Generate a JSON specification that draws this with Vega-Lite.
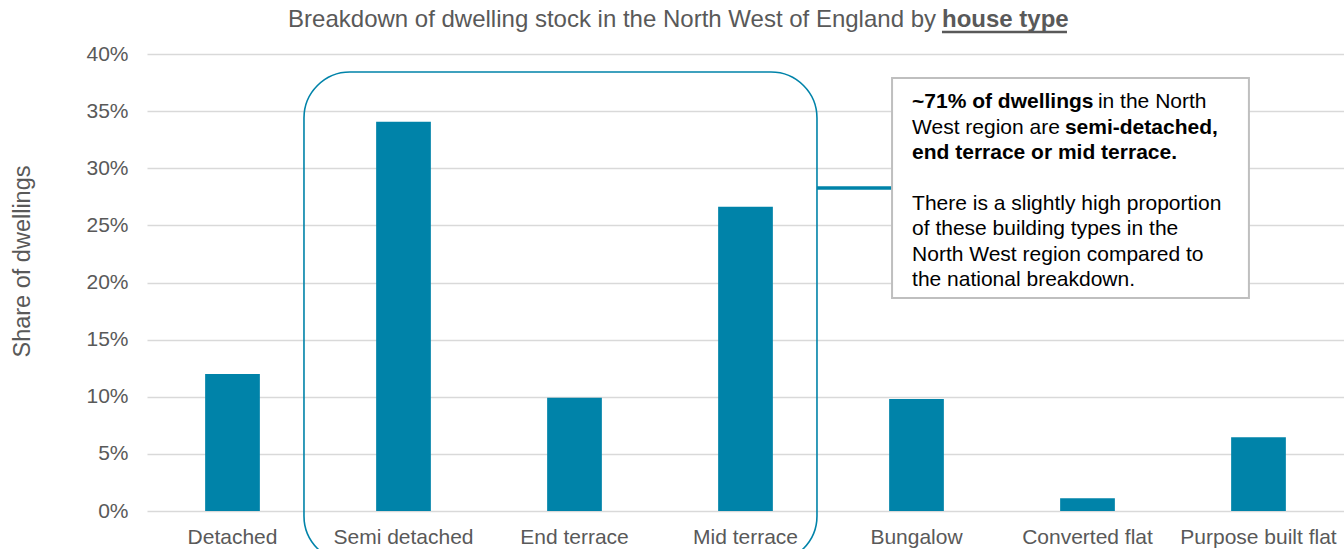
{
  "$schema": "https://vega.github.io/schema/vega-lite/v6.json",
  "width": 1197,
  "height": 457,
  "autosize": {"type": "none"},
  "padding": {"left": 147, "top": 54, "right": 0, "bottom": 38},
  "background": "white",
  "config": {
    "view": {"stroke": null},
    "font": "Liberation Sans",
    "axis": {"labelFont": "Liberation Sans", "titleFont": "Liberation Sans"}
  },
  "resolve": {"scale": {"x": "independent"}},
  "layer": [
    {
      "data": {
        "values": [
          {"type": "Detached", "share": 0.12},
          {"type": "Semi detached", "share": 0.3406},
          {"type": "End terrace", "share": 0.0992},
          {"type": "Mid terrace", "share": 0.2664},
          {"type": "Bungalow", "share": 0.098},
          {"type": "Converted flat", "share": 0.0111},
          {"type": "Purpose built flat", "share": 0.0646}
        ]
      },
      "mark": {"type": "bar", "color": "#0083a9"},
      "encoding": {
        "x": {
          "field": "type",
          "type": "nominal",
          "sort": null,
          "scale": {"paddingInner": 0.68, "paddingOuter": 0.34},
          "axis": {
            "title": null,
            "labelAngle": 0,
            "labelFontSize": 21,
            "labelColor": "#595959",
            "labelPadding": 15,
            "ticks": false,
            "domain": false,
            "grid": false
          }
        },
        "y": {
          "field": "share",
          "type": "quantitative",
          "scale": {"domain": [0, 0.4], "nice": false},
          "axis": {
            "title": "Share of dwellings",
            "titleFontSize": 23.5,
            "titleFontWeight": "normal",
            "titleColor": "#595959",
            "titleAngle": -90,
            "titleX": -125,
            "titleY": 207,
            "titleAlign": "center",
            "titleBaseline": "middle",
            "format": ".0%",
            "values": [0, 0.05, 0.1, 0.15, 0.2, 0.25, 0.3, 0.35, 0.4],
            "labelFontSize": 21,
            "labelColor": "#595959",
            "labelPadding": 19,
            "ticks": false,
            "domain": false,
            "grid": true,
            "gridColor": "#d9d9d9",
            "gridWidth": 1.5
          }
        }
      }
    },
    {
      "data": {"values": [{}]},
      "layer": [
        {
          "mark": {"type": "rect", "filled": false, "stroke": "#0083a9", "strokeWidth": 1.6, "cornerRadius": 46},
          "encoding": {
            "x": {"datum": 0.918, "type": "quantitative", "scale": {"domain": [0, 7], "nice": false, "zero": false}, "axis": null},
            "x2": {"datum": 3.918},
            "y": {"datum": 0.3842, "type": "quantitative"},
            "y2": {"datum": -0.0446}
          }
        },
        {
          "mark": {"type": "rule", "stroke": "#0083a9", "strokeWidth": 3.5},
          "encoding": {
            "x": {"datum": 3.918, "type": "quantitative", "axis": null},
            "x2": {"datum": 4.357},
            "y": {"datum": 0.2827, "type": "quantitative"}
          }
        },
        {
          "mark": {"type": "rect", "fill": "white", "stroke": "#bfbfbf", "strokeWidth": 2},
          "encoding": {
            "x": {"datum": 4.357, "type": "quantitative", "axis": null},
            "x2": {"datum": 6.444},
            "y": {"datum": 0.379, "type": "quantitative"},
            "y2": {"datum": 0.1864}
          }
        },
        {
          "mark": {"type": "text", "text": "~71% of dwellings", "fontWeight": "bold", "fontSize": 21, "color": "black", "align": "left", "baseline": "alphabetic"},
          "encoding": {
            "x": {"datum": 4.474, "type": "quantitative", "axis": null},
            "y": {"datum": 0.353, "type": "quantitative"}
          }
        },
        {
          "mark": {"type": "text", "text": "in the North", "fontSize": 21, "color": "black", "align": "left", "baseline": "alphabetic"},
          "encoding": {
            "x": {"datum": 5.561, "type": "quantitative", "axis": null},
            "y": {"datum": 0.353, "type": "quantitative"}
          }
        },
        {
          "mark": {"type": "text", "text": "West region are", "fontSize": 21, "color": "black", "align": "left", "baseline": "alphabetic"},
          "encoding": {
            "x": {"datum": 4.474, "type": "quantitative", "axis": null},
            "y": {"datum": 0.3297, "type": "quantitative"}
          }
        },
        {
          "mark": {"type": "text", "text": "semi-detached,", "fontWeight": "bold", "fontSize": 21, "color": "black", "align": "left", "baseline": "alphabetic"},
          "encoding": {
            "x": {"datum": 5.368, "type": "quantitative", "axis": null},
            "y": {"datum": 0.3297, "type": "quantitative"}
          }
        },
        {
          "mark": {"type": "text", "text": "end terrace or mid terrace.", "fontWeight": "bold", "fontSize": 21, "color": "black", "align": "left", "baseline": "alphabetic"},
          "encoding": {
            "x": {"datum": 4.474, "type": "quantitative", "axis": null},
            "y": {"datum": 0.3078, "type": "quantitative"}
          }
        },
        {
          "mark": {"type": "text", "text": ["There is a slightly high proportion", "of these building types in the", "North West region compared to", "the national breakdown."], "lineHeight": 25.4, "fontSize": 21, "color": "black", "align": "left", "baseline": "alphabetic"},
          "encoding": {
            "x": {"datum": 4.474, "type": "quantitative", "axis": null},
            "y": {"datum": 0.2635, "type": "quantitative"}
          }
        },
        {
          "mark": {"type": "text", "text": "Breakdown of dwelling stock in the North West of England by", "fontSize": 24, "color": "#595959", "align": "right", "baseline": "alphabetic"},
          "encoding": {
            "x": {"datum": 4.614, "type": "quantitative", "axis": null},
            "y": {"datum": 0.4236, "type": "quantitative"}
          }
        },
        {
          "mark": {"type": "text", "text": "house type", "fontWeight": "bold", "fontSize": 24, "color": "#595959", "align": "left", "baseline": "alphabetic"},
          "encoding": {
            "x": {"datum": 4.649, "type": "quantitative", "axis": null},
            "y": {"datum": 0.4236, "type": "quantitative"}
          }
        },
        {
          "mark": {"type": "rule", "stroke": "#595959", "strokeWidth": 2.5},
          "encoding": {
            "x": {"datum": 4.649, "type": "quantitative", "axis": null},
            "x2": {"datum": 5.38},
            "y": {"datum": 0.4193, "type": "quantitative"}
          }
        }
      ]
    }
  ]
}
